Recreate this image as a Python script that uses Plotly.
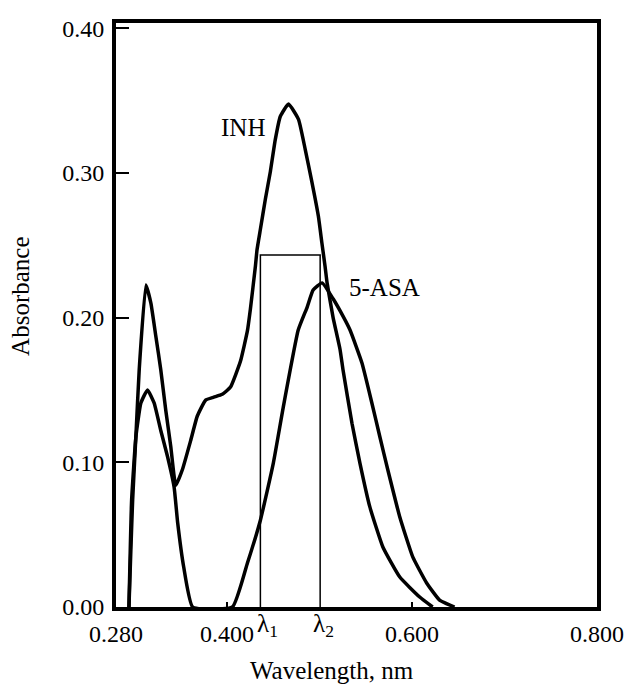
import plotly.graph_objects as go

# Data: wavelength (axis labelled as in the source figure) vs absorbance
inh_x = [0.2940, 0.2961, 0.2980, 0.3015, 0.3051, 0.3123, 0.3177, 0.3231, 0.3284, 0.3338,
         0.3392, 0.3446, 0.3518, 0.3607, 0.3679, 0.3769, 0.3858, 0.3949, 0.4038, 0.4146,
         0.4221, 0.4253, 0.4307, 0.4325, 0.4361, 0.4415, 0.4469, 0.4522, 0.4576, 0.4665,
         0.4773, 0.4845, 0.4917, 0.4988, 0.5025, 0.5060, 0.5082, 0.5147, 0.5222, 0.5254,
         0.5351, 0.5437, 0.5545, 0.5685, 0.5868, 0.6083, 0.6223]
inh_y = [0.0, 0.040, 0.074, 0.118, 0.164, 0.2225, 0.210, 0.187, 0.164, 0.136,
         0.111, 0.084, 0.095, 0.115, 0.132, 0.143, 0.145, 0.147, 0.152, 0.170,
         0.191, 0.206, 0.2355, 0.247, 0.261, 0.282, 0.301, 0.323, 0.339, 0.3476,
         0.337, 0.3165, 0.294, 0.270, 0.252, 0.2355, 0.224, 0.200, 0.178, 0.164,
         0.127, 0.0995, 0.069, 0.0415, 0.0207, 0.0069, 0.0]

asa_x = [0.2940, 0.2969, 0.3015, 0.3069, 0.3141, 0.3212, 0.3284, 0.3357, 0.3428, 0.3467,
         0.3532, 0.3629, 0.4059, 0.4221, 0.4361, 0.4501, 0.4608, 0.4770, 0.4867, 0.4931,
         0.5028, 0.5147, 0.5254, 0.5330, 0.5459, 0.5566, 0.5653, 0.5739, 0.5868, 0.6008,
         0.6158, 0.6298, 0.6460]
asa_y = [0.0, 0.074, 0.1175, 0.141, 0.150, 0.141, 0.122, 0.104, 0.083, 0.058,
         0.0276, 0.0, 0.0, 0.0304, 0.060, 0.0995, 0.138, 0.1914, 0.2073, 0.219,
         0.224, 0.213, 0.201, 0.1914, 0.1686, 0.141, 0.1175, 0.0947, 0.0622, 0.0346,
         0.0166, 0.0048, 0.0]

lambda_x = [0.4361, 0.5007]
lambda_level = 0.2433

x_tickvals = [0.28, 0.40, 0.60, 0.80]
x_ticktext = ["0.280", "0.400", "0.600", "0.800"]
y_tickvals = [0.0, 0.1, 0.2, 0.3, 0.4]
y_ticktext = ["0.00", "0.10", "0.20", "0.30", "0.40"]

FONT = "Liberation Serif"

fig = go.Figure()

curve_line = dict(color="black", width=3.5, shape="spline", smoothing=0.4)
fig.add_trace(go.Scatter(x=inh_x, y=inh_y, mode="lines", line=curve_line,
                         showlegend=False, hoverinfo="skip", name="INH"))
fig.add_trace(go.Scatter(x=asa_x, y=asa_y, mode="lines", line=curve_line,
                         showlegend=False, hoverinfo="skip", name="5-ASA"))
fig.add_trace(go.Scatter(x=[lambda_x[0], lambda_x[0], lambda_x[1], lambda_x[1]],
                         y=[0, lambda_level, lambda_level, 0], mode="lines",
                         line=dict(color="black", width=1.5),
                         showlegend=False, hoverinfo="skip"))

fig.update_layout(
    width=631, height=684,
    margin=dict(l=116, r=34, t=23, b=77),
    paper_bgcolor="white", plot_bgcolor="white",
    font=dict(family=FONT, color="black", size=24),
    xaxis=dict(range=[0.28, 0.80], tickvals=x_tickvals, ticktext=x_ticktext,
               ticks="inside", ticklen=5, tickwidth=1.5, tickcolor="black",
               showline=True, linecolor="black", linewidth=4, mirror=True,
               showgrid=False, zeroline=False, ticklabelstandoff=2, automargin=False,
               tickfont=dict(family=FONT, size=24, color="black")),
    yaxis=dict(range=[0, 0.4036], tickvals=y_tickvals, ticktext=y_ticktext,
               ticks="inside", ticklen=13, tickwidth=2, tickcolor="black",
               showline=True, linecolor="black", linewidth=4, mirror=True,
               showgrid=False, zeroline=False, ticklabelstandoff=3, automargin=False,
               tickfont=dict(family=FONT, size=24, color="black")),
    annotations=[
        dict(x=0.4178, y=0.3317, xref="x", yref="y", text="INH", showarrow=False,
             font=dict(family=FONT, size=25, color="black")),
        dict(x=0.5706, y=0.2205, xref="x", yref="y", text="5-ASA", showarrow=False,
             font=dict(family=FONT, size=25, color="black")),
        dict(x=lambda_x[0], y=0, xref="x", yref="y", text="λ<sub>1</sub>", showarrow=False,
             xanchor="left", yanchor="top", yshift=-1, xshift=-5,
             font=dict(family=FONT, size=25, color="black")),
        dict(x=lambda_x[1], y=0, xref="x", yref="y", text="λ<sub>2</sub>", showarrow=False,
             xanchor="center", yanchor="top", yshift=-1, xshift=3,
             font=dict(family=FONT, size=25, color="black")),
        dict(x=0.449, y=0, xref="paper", yref="paper", text="Wavelength, nm",
             showarrow=False, xanchor="center", yanchor="top", yshift=-48,
             font=dict(family=FONT, size=25, color="black")),
        dict(x=-0.1975, y=0.531, xref="paper", yref="paper", text="Absorbance",
             showarrow=False, textangle=-90, xanchor="center", yanchor="middle",
             font=dict(family=FONT, size=25, color="black")),
    ],
)

fig.write_html(
    "out.html",
    config={"displayModeBar": False},
    post_script="document.body.style.margin='0px';document.body.style.padding='0px';"
                "document.documentElement.style.overflow='hidden';document.body.style.overflow='hidden';",
)
